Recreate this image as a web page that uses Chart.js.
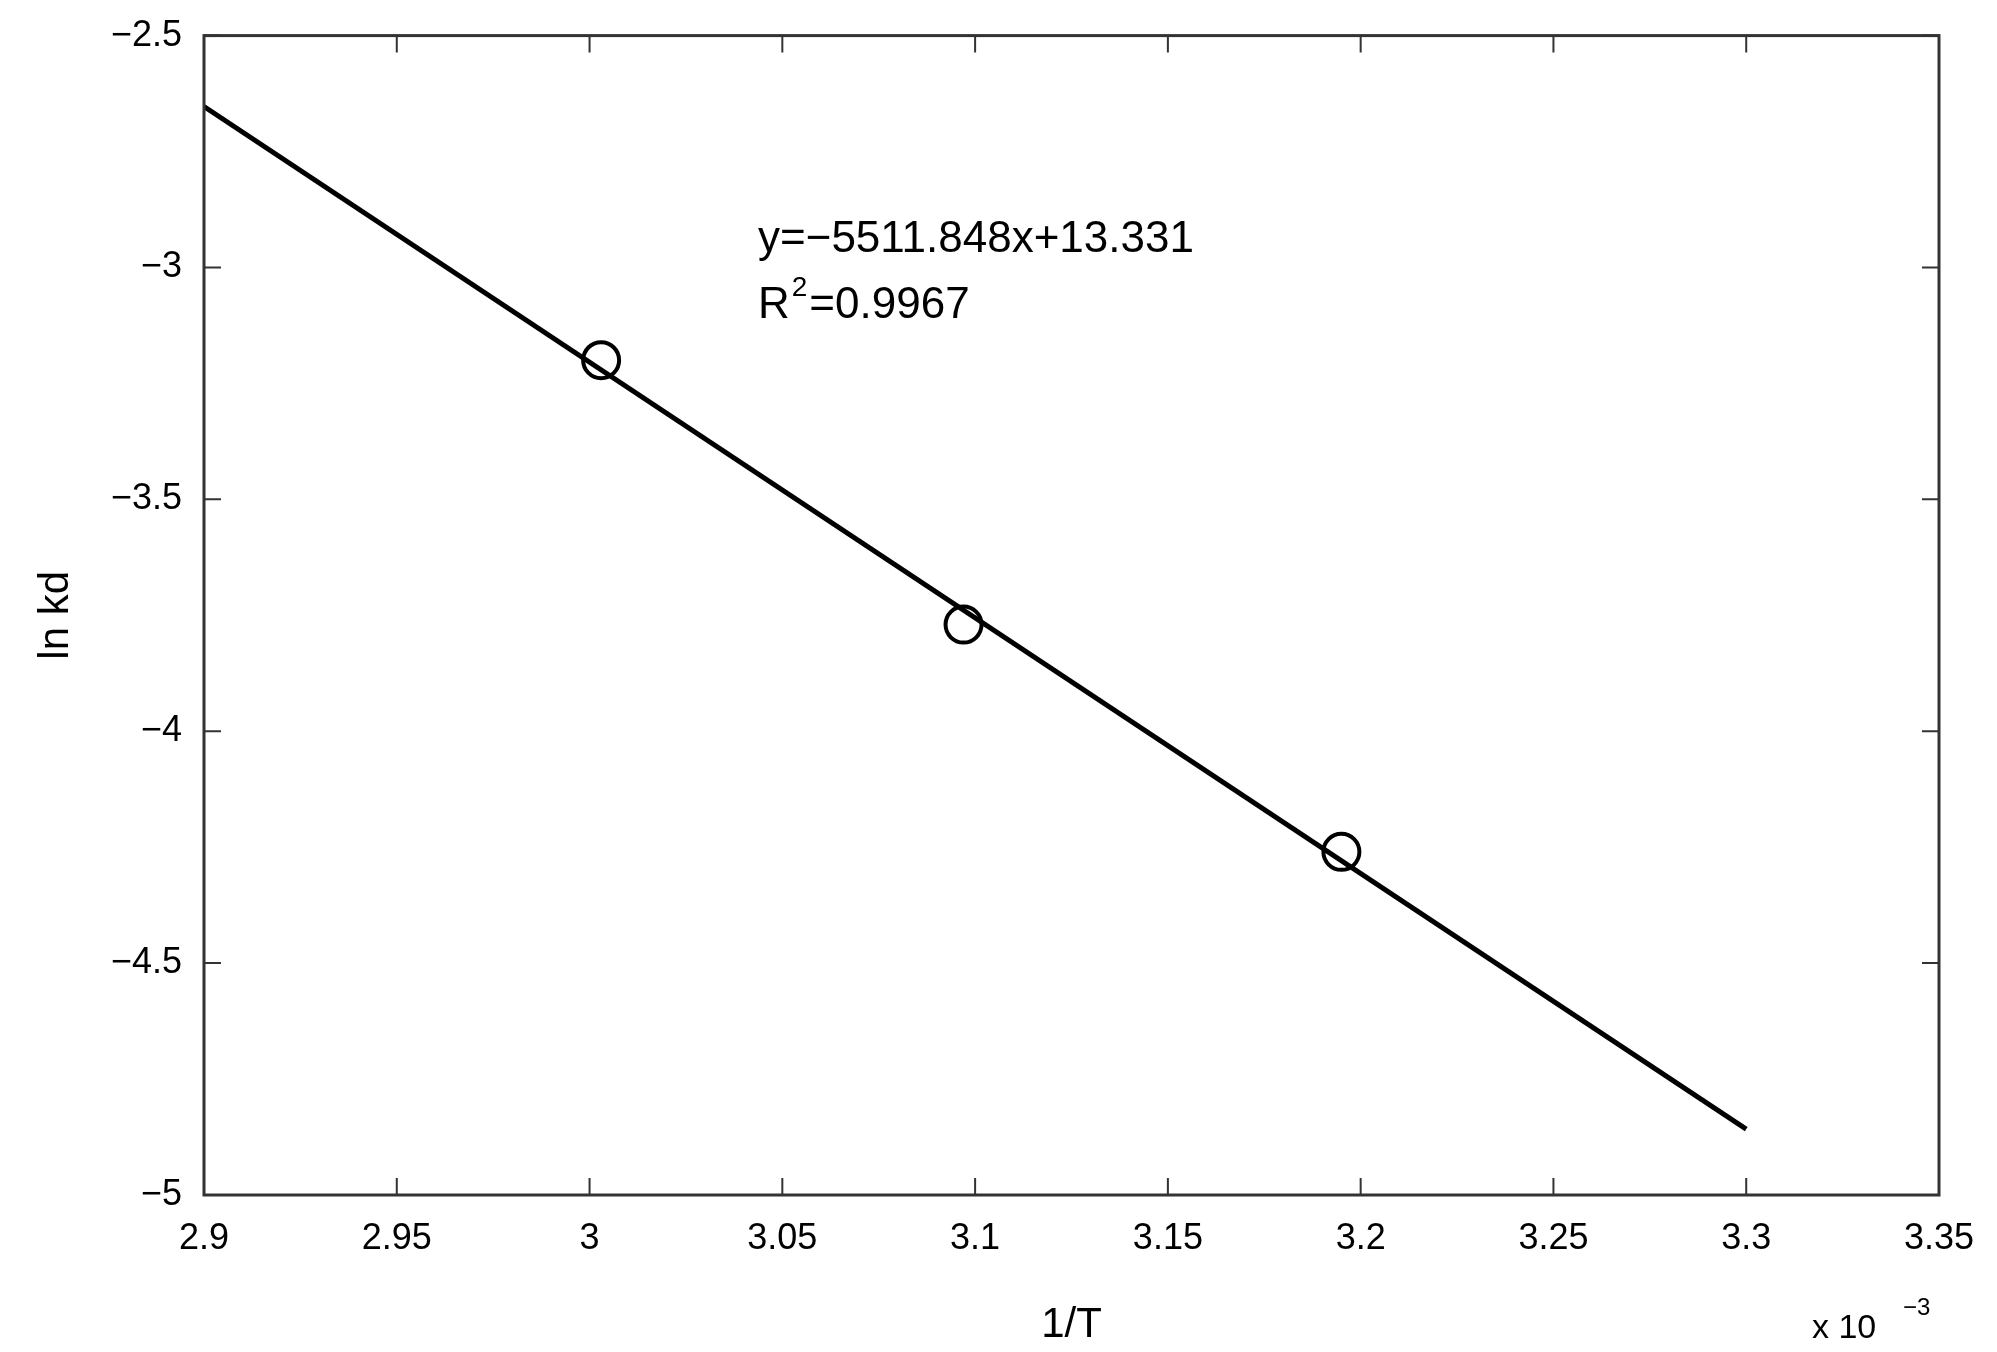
<!DOCTYPE html>
<html>
<head>
<meta charset="utf-8">
<script src="https://cdn.jsdelivr.net/npm/chart.js@4"></script>
<style>
  html, body { margin: 0; padding: 0; background: #fff; }
  #wrap { width: 1997px; height: 1352px; }
</style>
</head>
<body>
<div id="wrap"><canvas id="chart1"></canvas></div>
<script>
// 1/T values in units of 1e-3
const pointsX = [3.003, 3.097, 3.195]
const pointsY = [-3.20, -3.77, -4.26]
const fitX = [2.9, 3.3]
const fitY = [-2.653, -4.858]
const xTicks = [2.9, 2.95, 3, 3.05, 3.1, 3.15, 3.2, 3.25, 3.3, 3.35]
const yTicks = [-5, -4.5, -4, -3.5, -3, -2.5]
const fitLabel = 'y=\u22125511.848x+13.331'
const r2Label = '0.9967'

const FONT = '"Liberation Sans", Arial, sans-serif'

const fmt = v => (v < 0 ? '\u2212' + Math.abs(v) : String(v))

const frame = {
  id: 'frame',
  afterDraw(chart) {
    const { ctx, chartArea: a, scales: { x, y } } = chart
    ctx.save()
    ctx.strokeStyle = '#333'
    ctx.lineWidth = 3
    ctx.strokeRect(a.left, a.top, a.right - a.left, a.bottom - a.top)
    ctx.lineWidth = 2
    ctx.beginPath()
    xTicks.forEach(v => {
      const px = x.getPixelForValue(v)
      ctx.moveTo(px, a.bottom); ctx.lineTo(px, a.bottom - 17)
      ctx.moveTo(px, a.top); ctx.lineTo(px, a.top + 17)
    })
    yTicks.forEach(v => {
      const py = y.getPixelForValue(v)
      ctx.moveTo(a.left, py); ctx.lineTo(a.left + 17, py)
      ctx.moveTo(a.right, py); ctx.lineTo(a.right - 17, py)
    })
    ctx.stroke()

    ctx.fillStyle = '#000'
    ctx.textBaseline = 'alphabetic'
    ctx.textAlign = 'left'
    ctx.font = '44px ' + FONT
    ctx.fillText(fitLabel, 758, 252)
    ctx.fillText('R', 758, 318)
    const rw = ctx.measureText('R').width
    ctx.font = '28px ' + FONT
    ctx.fillText('2', 758 + rw + 2, 296)
    const sw = ctx.measureText('2').width
    ctx.font = '44px ' + FONT
    ctx.fillText('=' + r2Label, 758 + rw + sw + 4, 318)

    // axis titles
    ctx.font = '42px ' + FONT
    ctx.textAlign = 'center'
    ctx.fillText('1/T', (a.left + a.right) / 2, 1337)
    ctx.save()
    ctx.translate(68, (a.top + a.bottom) / 2)
    ctx.rotate(-Math.PI / 2)
    ctx.fillText('ln kd', 0, 0)
    ctx.restore()
    ctx.textAlign = 'left'
    ctx.font = '34px ' + FONT
    ctx.fillText('x 10', 1812, 1338)
    ctx.font = '24px ' + FONT
    ctx.fillText('\u22123', 1903, 1315)
    ctx.restore()
  }
}

new Chart(document.getElementById('chart1'), {
  type: 'scatter',
  data: {
    datasets: [
      {
        label: 'fit',
        data: fitX.map((v, i) => ({ x: v, y: fitY[i] })),
        showLine: true,
        borderColor: '#000',
        borderWidth: 5,
        pointRadius: 0,
        fill: false
      },
      {
        label: 'data',
        data: pointsX.map((v, i) => ({ x: v, y: pointsY[i] })),
        pointStyle: 'circle',
        pointRadius: 18,
        borderWidth: 4,
        borderColor: '#000',
        backgroundColor: 'rgba(0,0,0,0)'
      }
    ]
  },
  options: {
    responsive: true,
    maintainAspectRatio: false,
    animation: false,
    layout: { padding: { left: 0, top: 25, right: 58, bottom: 0 } },
    plugins: { legend: { display: false }, tooltip: { enabled: false } },
    scales: {
      x: {
        type: 'linear', min: 2.9, max: 3.35,
        afterBuildTicks: s => { s.ticks = xTicks.map(v => ({ value: v })) },
        afterFit: s => { s.height = 157 },
        grid: { display: false },
        border: { display: false },
        ticks: { color: '#000', font: { family: FONT, size: 36 }, padding: 14, callback: v => fmt(v) }
      },
      y: {
        type: 'linear', min: -5, max: -2.5,
        afterBuildTicks: s => { s.ticks = yTicks.map(v => ({ value: v })) },
        afterFit: s => { s.width = 204 },
        grid: { display: false },
        border: { display: false },
        ticks: { color: '#000', font: { family: FONT, size: 36 }, padding: 14, callback: v => fmt(v) }
      }
    }
  },
  plugins: [frame]
})
</script>
</body>
</html>
